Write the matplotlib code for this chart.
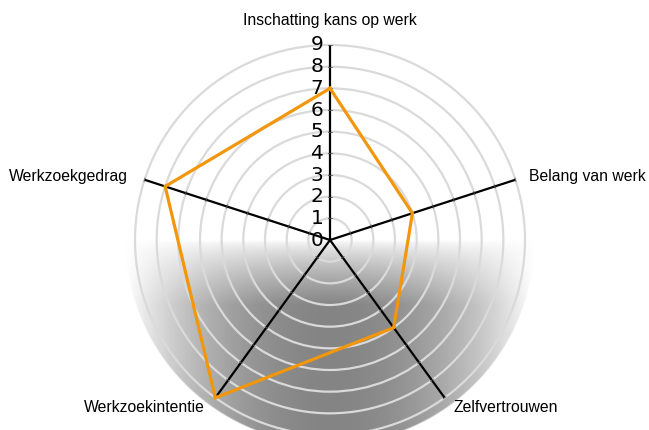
import numpy as np
import matplotlib
matplotlib.use('Agg')
import matplotlib.pyplot as plt
from matplotlib.patches import Circle

# data
categories = ['Inschatting kans op werk', 'Belang van werk', 'Zelfvertrouwen',
              'Werkzoekintentie', 'Werkzoekgedrag']
values = [7, 4, 5, 9, 8]
rings = [1, 2, 3, 4, 5, 6, 7, 8, 9]
ring_labels = ['0', '1', '2', '3', '4', '5', '6', '7', '8', '9']

rmax = 9
scale = 195 / 9.0  # pixels per unit
cx, cy = 330, 240   # centre in pixels (from top-left)
W, H = 649, 430

fig = plt.figure(figsize=(W / 100, H / 100), dpi=100)
ax = fig.add_axes([0, 0, 1, 1])
ax.axis('off')

# shaded lower half of the disc (alpha masks the outside of the circle)
R = 9.45
n = 800
xs = np.linspace(-R, R, n)
ys = np.linspace(-R, 0, n // 2)
X, Y = np.meshgrid(xs, ys)
h = np.clip(1 - (np.abs(X) / R) ** 2, 0, 1)
v = np.clip(-Y / 3.0, 0, 1) ** 0.7
dark = 0.48 * h * v
rr = np.hypot(X, Y)
alpha = np.clip((R - rr) / 0.05, 0, 1)
img = np.dstack([1 - dark, 1 - dark, 1 - dark, alpha])
ax.imshow(img, extent=[-R, R, -R, 0], origin='lower', zorder=0,
          interpolation='bilinear')

# grid rings
for r in rings:
    ax.add_patch(Circle((0, 0), r, fill=False, ec='#dadada', lw=1.6, zorder=1))

# spokes
n_ax = len(categories)
angles = np.pi / 2 - np.arange(n_ax) * 2 * np.pi / n_ax
for a in angles:
    ax.plot([0, rmax * np.cos(a)], [0, rmax * np.sin(a)], color='black',
            lw=1.6, zorder=2, solid_capstyle='butt')
    # small tick marks
    for r in rings:
        px, py = r * np.cos(a), r * np.sin(a)
        nx, ny = -np.sin(a) * 0.08, np.cos(a) * 0.08
        ax.plot([px - nx, px + nx], [py - ny, py + ny], color='#555555',
                lw=0.6, zorder=2)

# data polygon
vals = np.array(values + values[:1], dtype=float)
angs = np.append(angles, angles[0])
ax.plot(vals * np.cos(angs), vals * np.sin(angs), color='#f2960c', lw=2.3,
        zorder=3, solid_joinstyle='miter')

# ring labels
for i, lab in enumerate(ring_labels):
    ax.text(-0.3, i, lab, ha='right', va='center', fontsize=14.5,
            family='DejaVu Sans', zorder=4)

# category labels
label_pos = [(0, 10.15, 'center'), (9.18, 2.95, 'left'), (5.68, -7.71, 'left'),
             (-5.77, -7.71, 'right'), (-9.32, 2.95, 'right')]
for (x, y, ha), name in zip(label_pos, categories):
    ax.text(x, y, name, ha=ha, va='center', fontsize=11.3,
            family='Liberation Sans', zorder=4)

ax.set_xlim(-cx / scale, (W - cx) / scale)
ax.set_ylim(-(H - cy) / scale, cy / scale)
ax.set_aspect('auto')

fig.savefig('out.png', dpi=100)
